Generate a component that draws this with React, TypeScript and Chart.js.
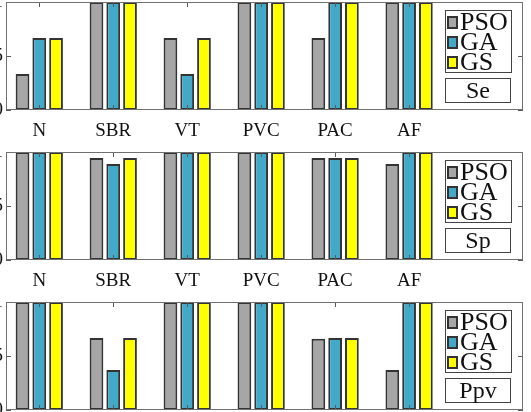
import React, { useEffect, useRef } from "react";
import { Chart, registerables } from "chart.js";

Chart.register(...registerables);

const categories = ["N", "SBR", "VT", "PVC", "PAC", "AF"];
const seriesNames = ["PSO", "GA", "GS"];
const seriesColors = ["#a6a6a6", "#43a9c9", "#ffff00"];
const yTickValues = [0, 0.5, 1];
const yTickLabels = ["0", "0.5", "1"];

const sePSO = [0.333, 1, 0.667, 1, 0.667, 1];
const seGA = [0.667, 1, 0.333, 1, 1, 1];
const seGS = [0.667, 1, 0.667, 1, 1, 1];

const spPSO = [1, 0.944, 1, 1, 0.944, 0.889];
const spGA = [1, 0.889, 1, 1, 0.944, 1];
const spGS = [1, 0.944, 1, 1, 0.944, 1];

const ppvPSO = [1, 0.667, 1, 1, 0.66, 0.37];
const ppvGA = [1, 0.37, 1, 1, 0.667, 1];
const ppvGS = [1, 0.667, 1, 1, 0.667, 1];

const panels = [
  { title: "Se", values: [sePSO, seGA, seGS] },
  { title: "Sp", values: [spPSO, spGA, spGS] },
  { title: "Ppv", values: [ppvPSO, ppvGA, ppvGS] },
];

const FONT = "'Liberation Serif', 'Times New Roman', serif";
const Y_AXIS_W = 40;
const X_AXIS_H = 40;
const PANEL_H = 150;
const CANVAS_LEFT = 6 - Y_AXIS_W;
const CANVAS_W = 524 - CANVAS_LEFT;

const boxPlugin = {
  id: "matlabBox",
  afterDatasetsDraw(chart: any) {
    const { ctx, chartArea: a, scales } = chart;
    const x = scales.x;
    const y = scales.y;
    ctx.save();
    ctx.strokeStyle = "#5a5a5a";
    ctx.lineWidth = 1;
    const line = (x1: number, y1: number, x2: number, y2: number) => {
      ctx.beginPath();
      ctx.moveTo(x1, y1);
      ctx.lineTo(x2, y2);
      ctx.stroke();
    };
    categories.forEach((_, i) => {
      const px = Math.round(x.getPixelForValue(i + 1)) + 0.5;
      line(px, a.top, px, a.top + 5);
      line(px, a.bottom, px, a.bottom - 5);
    });
    yTickValues.forEach((v) => {
      const py = Math.round(y.getPixelForValue(v)) + 0.5;
      line(a.left, py, a.left + 5, py);
      line(a.right, py, a.right - 5, py);
    });
    ctx.strokeStyle = "#707070";
    ctx.strokeRect(
      Math.round(a.left) + 0.5,
      Math.round(a.top) + 0.5,
      Math.round(a.right - a.left) - 1,
      Math.round(a.bottom - a.top) - 1
    );
    ctx.restore();
  },
};

function Panel({ index }: { index: number }) {
  const ref = useRef<HTMLCanvasElement | null>(null);
  const panel = panels[index];
  useEffect(() => {
    if (!ref.current) return;
    const chart = new Chart(ref.current, {
      type: "bar",
      data: {
        datasets: panel.values.map((vals, s) => ({
          label: seriesNames[s],
          data: vals.map((v, i) => ({ x: i + 1, y: v })),
          backgroundColor: seriesColors[s],
          borderColor: "#333333",
          borderWidth: 2,
          borderSkipped: false,
          categoryPercentage: 0.68,
          barPercentage: 0.82,
        })),
      },
      options: {
        animation: false,
        responsive: false,
        maintainAspectRatio: false,
        layout: { padding: { top: 2, right: 1, left: 0, bottom: 0 } },
        plugins: { legend: { display: false }, tooltip: { enabled: false } },
        scales: {
          x: {
            type: "linear",
            offset: false,
            min: 0.55,
            max: 7.54,
            grid: { display: false, drawTicks: false, offset: false },
            border: { display: false },
            afterBuildTicks: (scale: any) => {
              scale.ticks = categories.map((_, i) => ({ value: i + 1 }));
            },
            afterFit: (scale: any) => {
              scale.height = X_AXIS_H;
              scale.paddingLeft = 0;
              scale.paddingRight = 0;
            },
            ticks: {
              autoSkip: false,
              maxRotation: 0,
              padding: 10,
              color: "#111",
              font: { family: FONT, size: 19 },
              callback: (_v: any, i: number) => categories[i] ?? "",
            },
          },
          y: {
            min: 0,
            max: 1,
            grid: { display: false, drawTicks: false },
            border: { display: false },
            afterBuildTicks: (scale: any) => {
              scale.ticks = yTickValues.map((v) => ({ value: v }));
            },
            afterFit: (scale: any) => {
              scale.width = Y_AXIS_W;
              scale.paddingTop = 0;
              scale.paddingBottom = 0;
            },
            ticks: {
              padding: 3,
              color: "#111",
              font: { family: FONT, size: 19 },
              callback: (_v: any, i: number) => yTickLabels[i] ?? "",
            },
          },
        },
      },
      plugins: [boxPlugin],
    });
    return () => chart.destroy();
  }, [index]);

  const top = index * PANEL_H;
  const legendTop = top + 10;
  return (
    <>
      <canvas
        ref={ref}
        width={CANVAS_W}
        height={PANEL_H}
        style={{ position: "absolute", left: CANVAS_LEFT, top, width: CANVAS_W, height: PANEL_H }}
      />
      <div
        style={{
          position: "absolute",
          left: 445,
          top: legendTop,
          width: 67,
          height: 63,
          boxSizing: "border-box",
          border: "1px solid #444",
          background: "#fff",
          fontFamily: FONT,
          fontSize: 26,
          color: "#111",
        }}
      >
        {seriesNames.map((name, s) => (
          <div
            key={name}
            style={{
              position: "absolute",
              left: 1,
              top: 1 + s * 20,
              height: 20,
              lineHeight: "20px",
              display: "flex",
              alignItems: "center",
              whiteSpace: "nowrap",
            }}
          >
            <span
              style={{
                display: "inline-block",
                width: 11,
                height: 13,
                boxSizing: "border-box",
                border: "2px solid #333",
                background: seriesColors[s],
                marginRight: 2,
              }}
            />
            <span>{name}</span>
          </div>
        ))}
      </div>
      <div
        style={{
          position: "absolute",
          left: 445,
          top: top + 78,
          width: 66,
          height: 25,
          boxSizing: "border-box",
          border: "1px solid #444",
          background: "#fff",
          fontFamily: FONT,
          fontSize: 24,
          lineHeight: "23px",
          textAlign: "center",
          color: "#111",
        }}
      >
        {panel.title}
      </div>
    </>
  );
}

export default function App() {
  return (
    <div
      style={{
        position: "fixed",
        left: 0,
        top: 0,
        width: 531,
        height: 412,
        overflow: "hidden",
        background: "#fff",
      }}
    >
      {panels.map((_, i) => (
        <Panel key={i} index={i} />
      ))}
    </div>
  );
}
